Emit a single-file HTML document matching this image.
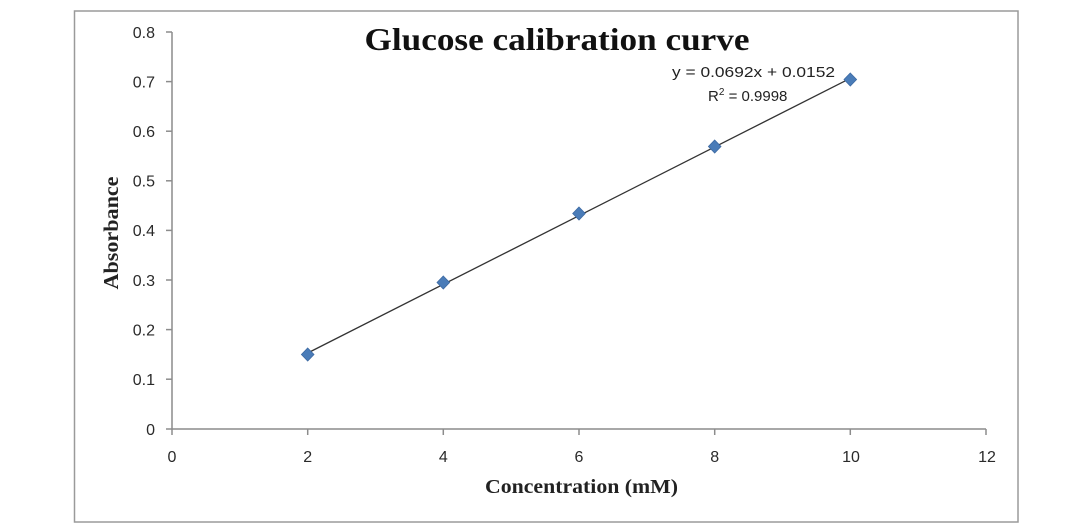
<!DOCTYPE html>
<html>
<head>
<meta charset="utf-8">
<style>
  html,body{margin:0;padding:0;background:#fff;}
  body{width:1080px;height:528px;overflow:hidden;}
  svg{display:block;}
</style>
</head>
<body>
<svg width="1080" height="528" viewBox="0 0 1080 528" xmlns="http://www.w3.org/2000/svg">
  <rect x="0" y="0" width="1080" height="528" fill="#fff"/>
  <!-- chart frame -->
  <rect x="74.5" y="11" width="943.5" height="511" fill="#fff" stroke="#9a9a9a" stroke-width="1.5"/>

  <!-- title -->
  <text x="557" y="50" font-family="'Liberation Serif', serif" font-weight="bold" font-size="32" fill="#111" text-anchor="middle" textLength="385" lengthAdjust="spacingAndGlyphs">Glucose calibration curve</text>

  <!-- axes -->
  <g stroke="#8c8c8c" stroke-width="1.5" fill="none">
    <line x1="172" y1="32" x2="172" y2="429"/>
    <line x1="172" y1="429" x2="986" y2="429"/>
    <!-- y ticks -->
    <line x1="166" y1="32" x2="172" y2="32"/>
    <line x1="166" y1="81.6" x2="172" y2="81.6"/>
    <line x1="166" y1="131.2" x2="172" y2="131.2"/>
    <line x1="166" y1="180.8" x2="172" y2="180.8"/>
    <line x1="166" y1="230.4" x2="172" y2="230.4"/>
    <line x1="166" y1="280" x2="172" y2="280"/>
    <line x1="166" y1="329.6" x2="172" y2="329.6"/>
    <line x1="166" y1="379.2" x2="172" y2="379.2"/>
    <line x1="166" y1="429" x2="172" y2="429"/>
    <!-- x ticks -->
    <line x1="172" y1="429" x2="172" y2="435"/>
    <line x1="307.7" y1="429" x2="307.7" y2="435"/>
    <line x1="443.3" y1="429" x2="443.3" y2="435"/>
    <line x1="579" y1="429" x2="579" y2="435"/>
    <line x1="714.7" y1="429" x2="714.7" y2="435"/>
    <line x1="850.3" y1="429" x2="850.3" y2="435"/>
    <line x1="986" y1="429" x2="986" y2="435"/>
  </g>

  <!-- y tick labels -->
  <g font-family="'Liberation Sans', sans-serif" font-size="16" fill="#2a2a2a" text-anchor="end">
    <text x="155" y="38">0.8</text>
    <text x="155" y="87.5">0.7</text>
    <text x="155" y="137">0.6</text>
    <text x="155" y="186.5">0.5</text>
    <text x="155" y="236">0.4</text>
    <text x="155" y="286">0.3</text>
    <text x="155" y="335.5">0.2</text>
    <text x="155" y="385">0.1</text>
    <text x="155" y="435">0</text>
  </g>

  <!-- x tick labels -->
  <g font-family="'Liberation Sans', sans-serif" font-size="16" fill="#2a2a2a" text-anchor="middle">
    <text x="172" y="462">0</text>
    <text x="307.7" y="462">2</text>
    <text x="443.3" y="462">4</text>
    <text x="579" y="462">6</text>
    <text x="714.7" y="462">8</text>
    <text x="851" y="462">10</text>
    <text x="987" y="462">12</text>
  </g>

  <!-- axis titles -->
  <text x="581.5" y="493" font-family="'Liberation Serif', serif" font-weight="bold" font-size="20" fill="#222" text-anchor="middle" textLength="193" lengthAdjust="spacingAndGlyphs">Concentration (mM)</text>
  <text transform="translate(118,233) rotate(-90)" x="0" y="0" font-family="'Liberation Serif', serif" font-weight="bold" font-size="21" fill="#222" text-anchor="middle" textLength="113" lengthAdjust="spacingAndGlyphs">Absorbance</text>

  <!-- trendline -->
  <line x1="307.7" y1="353" x2="850.3" y2="78.3" stroke="#333" stroke-width="1.3"/>

  <!-- data markers -->
  <g fill="#4a7cb8" stroke="#3d6aa3" stroke-width="0.8">
    <polygon points="307.7,348 314,354.5 307.7,361 301.4,354.5"/>
    <polygon points="443.3,276 449.6,282.5 443.3,289 437,282.5"/>
    <polygon points="579,207 585.3,213.5 579,220 572.7,213.5"/>
    <polygon points="714.7,140 721,146.5 714.7,153 708.4,146.5"/>
    <polygon points="850.3,73 856.6,79.5 850.3,86 844,79.5"/>
  </g>

  <!-- equation -->
  <g font-family="'Liberation Sans', sans-serif" font-size="15" fill="#222">
    <text x="672" y="77" textLength="163" lengthAdjust="spacingAndGlyphs">y = 0.0692x + 0.0152</text>
    <text x="708" y="101">R<tspan font-size="10" dy="-6">2</tspan><tspan dy="6"> = 0.9998</tspan></text>
  </g>
</svg>
</body>
</html>
